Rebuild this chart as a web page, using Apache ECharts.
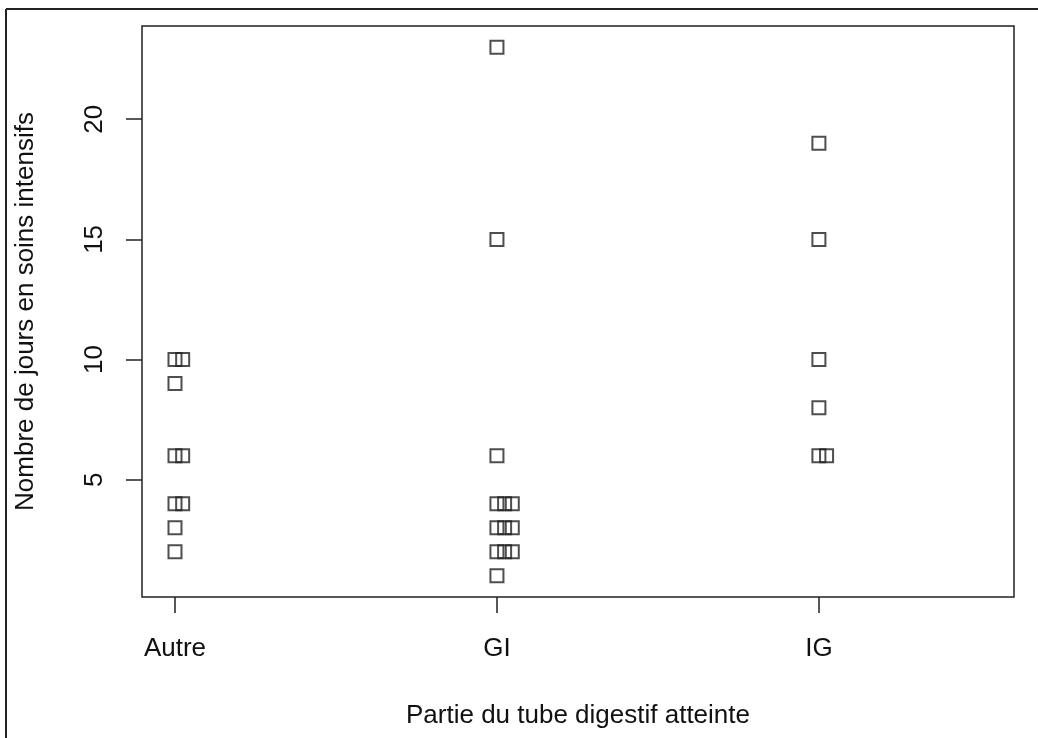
<!DOCTYPE html>
<html>
<head>
<meta charset="utf-8">
<script src="https://cdn.jsdelivr.net/npm/echarts@6/dist/echarts.min.js"></script>
<style>html,body{margin:0;padding:0;background:#fff;}#c{width:1038px;height:738px;}</style>
</head>
<body>
<div id="c"></div>
<script>
const categories = ['Autre', 'GI', 'IG'];
const autre = [10, 10, 9, 6, 6, 4, 4, 3, 2];
const gi = [23, 15, 6, 4, 4, 4, 3, 3, 3, 2, 2, 2, 1];
const ig = [19, 15, 10, 8, 6, 6];
const yTicks = [5, 10, 15, 20];
const xTitle = 'Partie du tube digestif atteinte';
const yTitle = 'Nombre de jours en soins intensifs';

const groups = [autre, gi, ig];
const STACK_OFFSET = 0.0238;
const points = [];
groups.forEach((vals, gi_) => {
  const seen = {};
  vals.forEach(v => {
    const k = seen[v] || 0;
    seen[v] = k + 1;
    points.push([gi_ + 1 + k * STACK_OFFSET, v]);
  });
});

const FONT = "'Liberation Sans', Arial, sans-serif";
const TXT = '#111';
const chart = echarts.init(document.getElementById('c'), null, {renderer: 'canvas'});
chart.setOption({
  animation: false,
  backgroundColor: '#fff',
  grid: {left: 142, top: 26, right: 24, bottom: 141, show: true, borderColor: '#222', borderWidth: 1.5, backgroundColor: 'transparent'},
  xAxis: {
    type: 'value', min: 0.8975, max: 3.606,
    axisLine: {show: false},
    splitLine: {show: false},
    axisTick: {show: true, length: 16, inside: false, customValues: [1, 2, 3], lineStyle: {color: '#222', width: 1.5}},
    axisLabel: {show: true, customValues: [1, 2, 3], margin: 39, fontSize: 26, fontFamily: FONT, color: TXT,
      formatter: v => categories[Math.round(v) - 1] || ''},
    name: xTitle, nameLocation: 'middle', nameGap: 106,
    nameTextStyle: {fontSize: 26, fontFamily: FONT, color: TXT}
  },
  yAxis: {
    type: 'value', min: 0.12, max: 23.88,
    axisLine: {show: false},
    splitLine: {show: false},
    axisTick: {show: true, length: 16, inside: false, customValues: yTicks, lineStyle: {color: '#222', width: 1.5}},
    axisLabel: {show: true, customValues: yTicks, rotate: 90, margin: 34, fontSize: 26, fontFamily: FONT, color: TXT},
    name: yTitle, nameLocation: 'middle', nameGap: 103,
    nameTextStyle: {fontSize: 26, fontFamily: FONT, color: TXT}
  },
  series: [{
    type: 'scatter',
    data: points,
    symbol: 'rect',
    symbolSize: 13,
    itemStyle: {color: 'rgba(0,0,0,0)', borderColor: '#222', borderWidth: 2},
    emphasis: {disabled: true}
  }],
  graphic: [
    {type: 'line', shape: {x1: 6, y1: 9, x2: 1038, y2: 9}, style: {stroke: '#222', lineWidth: 2}},
    {type: 'line', shape: {x1: 6, y1: 9, x2: 6, y2: 738}, style: {stroke: '#222', lineWidth: 2}}
  ]
});
</script>
</body>
</html>
